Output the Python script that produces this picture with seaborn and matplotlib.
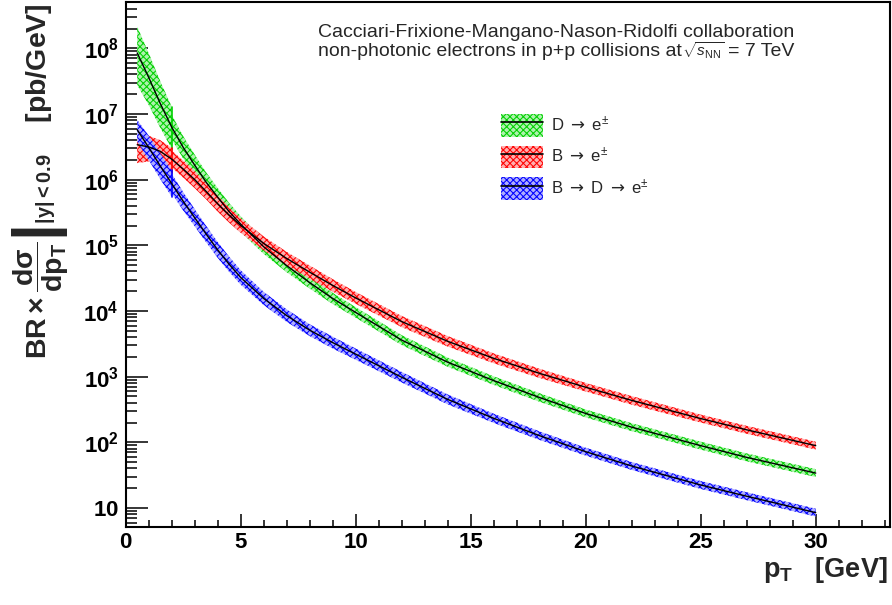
import matplotlib
matplotlib.use("Agg")
import matplotlib.pyplot as plt
from matplotlib.patches import Patch
from matplotlib.lines import Line2D
from matplotlib.ticker import FixedLocator, MultipleLocator, NullFormatter
from matplotlib.mathtext import MathTextParser
import numpy as np
import pandas as pd
import seaborn as sns

# FONLL pT grid in GeV; the 2 GeV node appears twice because the uncertainty
# band switches there from the low-pT to the high-pT evaluation
pt = [0.5, 1.0, 1.5, 2.0, 2.0, 2.5, 3.0, 3.5, 4.0, 4.5, 5.0, 6.0, 7.0, 8.0,
      9.0, 10.0, 12.0, 14.0, 16.0, 18.0, 20.0, 22.0, 25.0, 27.0, 30.0]

# central values, BR x dsigma/dpT in pb/GeV
d_to_e = [8.5e7, 3.6e7, 1.45e7, 6.3e6, 6.3e6, 3.1e6, 1.66e6, 9.1e5, 5.4e5,
          3.25e5, 2.1e5, 9.5e4, 4.9e4, 2.7e4, 1.55e4, 9.5e3, 3.6e3, 1.66e3,
          870, 480, 275, 170, 89, 59, 34]
b_to_e = [3.4e6, 3.15e6, 2.7e6, 2.05e6, 2.05e6, 1.45e6, 1.0e6, 6.6e5, 4.3e5,
          2.88e5, 2.0e5, 1.07e5, 6.3e4, 3.9e4, 2.45e4, 1.58e4, 6.9e3, 3.45e3,
          1.9e3, 1.12e3, 690, 435, 230, 155, 89]
b_to_d_to_e = [5.75e6, 3.09e6, 1.62e6, 8.7e5, 8.7e5, 4.68e5, 2.63e5, 1.48e5,
               8.5e4, 5.13e4, 3.24e4, 1.55e4, 8.5e3, 5.1e3, 3.3e3, 2.2e3, 980,
               450, 232, 126, 72, 43.6, 22.4, 15.1, 8.5]

# upper / lower edges of the theory uncertainty band, in decades
d_to_e_up = [0.40, 0.37, 0.34, 0.31, 0.19, 0.17, 0.16, 0.15, 0.14, 0.13, 0.12,
             0.11, 0.10, 0.09, 0.085, 0.08, 0.075, 0.07, 0.065, 0.065, 0.06,
             0.06, 0.06, 0.06, 0.06]
d_to_e_lo = [0.49, 0.42, 0.37, 0.33, 0.19, 0.17, 0.16, 0.15, 0.14, 0.13, 0.12,
             0.11, 0.10, 0.09, 0.085, 0.08, 0.075, 0.07, 0.065, 0.065, 0.06,
             0.06, 0.06, 0.06, 0.06]
b_to_e_up = [0.15, 0.17, 0.17, 0.17, 0.13, 0.13, 0.13, 0.12, 0.12, 0.115,
             0.11, 0.105, 0.10, 0.10, 0.095, 0.09, 0.085, 0.08, 0.075, 0.07,
             0.065, 0.065, 0.06, 0.06, 0.06]
b_to_e_lo = [0.28, 0.22, 0.21, 0.21, 0.13, 0.13, 0.13, 0.12, 0.12, 0.115,
             0.11, 0.105, 0.10, 0.10, 0.095, 0.09, 0.085, 0.08, 0.075, 0.07,
             0.065, 0.065, 0.06, 0.06, 0.06]
b_to_d_to_e_up = [0.15, 0.18, 0.19, 0.20, 0.15, 0.14, 0.13, 0.125, 0.12,
                  0.115, 0.11, 0.10, 0.095, 0.09, 0.09, 0.085, 0.08, 0.075,
                  0.07, 0.065, 0.06, 0.06, 0.06, 0.06, 0.06]
b_to_d_to_e_lo = [0.18, 0.19, 0.20, 0.20, 0.15, 0.14, 0.13, 0.125, 0.12,
                  0.115, 0.11, 0.10, 0.095, 0.09, 0.09, 0.085, 0.08, 0.075,
                  0.07, 0.065, 0.06, 0.06, 0.06, 0.06, 0.06]

labels = [r"D $\mathsf{\rightarrow}$ e$^{\pm}$",
          r"B $\mathsf{\rightarrow}$ e$^{\pm}$",
          r"B $\mathsf{\rightarrow}$ D $\mathsf{\rightarrow}$ e$^{\pm}$"]
strong_colors = ["#00d000", "#ff0000", "#0000ff"]
light_colors = ["#aef2ae", "#ffaeae", "#aeaeff"]

y_tick_values = [10, 1e2, 1e3, 1e4, 1e5, 1e6, 1e7, 1e8]
y_tick_labels = [r"$\mathbf{10}$", r"$\mathbf{10^{2}}$", r"$\mathbf{10^{3}}$",
                 r"$\mathbf{10^{4}}$", r"$\mathbf{10^{5}}$", r"$\mathbf{10^{6}}$",
                 r"$\mathbf{10^{7}}$", r"$\mathbf{10^{8}}$"]
x_tick_values = [0, 5, 10, 15, 20, 25, 30]

sns.set_theme(style="ticks")
plt.rcParams.update({
    "font.family": ["Liberation Sans", "DejaVu Sans"],
    "mathtext.fontset": "custom",
    "mathtext.rm": "Liberation Sans",
    "mathtext.sf": "DejaVu Sans",
    "mathtext.it": "Liberation Sans:italic",
    "mathtext.bf": "Liberation Sans:bold",
    "hatch.linewidth": 0.75,
    "axes.linewidth": 1.5,
})

W, H = 892, 605
fig = plt.figure(figsize=(W / 100, H / 100), dpi=100)
fig.patch.set_facecolor("white")
left, right, top, bottom = 125.7, 890.5, 2.0, 526.7
ax = fig.add_axes([left / W, 1 - bottom / H, (right - left) / W, (bottom - top) / H])
ax.set_facecolor("white")

series = [
    (labels[0], d_to_e, d_to_e_up, d_to_e_lo),
    (labels[1], b_to_e, b_to_e_up, b_to_e_lo),
    (labels[2], b_to_d_to_e, b_to_d_to_e_up, b_to_d_to_e_lo),
]

frames = []
for i, (name, vals, up, lo) in enumerate(series):
    v = np.log10(np.asarray(vals, dtype=float))
    hi_edge = 10 ** (v + np.asarray(up))
    lo_edge = 10 ** (v - np.asarray(lo))
    ax.fill_between(pt, lo_edge, hi_edge, facecolor=light_colors[i],
                    edgecolor=strong_colors[i], hatch="xxxxx", linewidth=0,
                    zorder=1 + i)
    # edge where the band evaluation changes at 2 GeV
    ax.plot([pt[3], pt[3]], [lo_edge[3], hi_edge[3]], color=strong_colors[i],
            lw=1.2, zorder=1 + i)
    frames.append(pd.DataFrame({"pT": pt, "sigma": vals, "channel": name}))

df = pd.concat(frames, ignore_index=True)
sns.lineplot(data=df, x="pT", y="sigma", units="channel", estimator=None,
             color="black", lw=1.0, sort=False, legend=False, ax=ax, zorder=5)

ax.set_yscale("log")
ax.set_xlim(0, 33.25)
ax.set_ylim(5.19, 5.07e8)
ax.set_xlabel("")
ax.set_ylabel("")

ax.yaxis.set_major_locator(FixedLocator(y_tick_values))
ax.set_yticklabels(y_tick_labels)
minor_y = [m * 10 ** k for k in range(0, 9) for m in range(2, 10)]
ax.yaxis.set_minor_locator(FixedLocator(minor_y))
ax.yaxis.set_minor_formatter(NullFormatter())
ax.xaxis.set_major_locator(FixedLocator(x_tick_values))
ax.set_xticklabels([str(t) for t in x_tick_values])
ax.xaxis.set_minor_locator(MultipleLocator(1))

ax.tick_params(axis="both", which="both", direction="in", top=False,
               right=False, colors="black", width=1.1)
ax.tick_params(axis="y", which="major", length=16, pad=5, labelsize=16)
ax.tick_params(axis="y", which="minor", length=8)
ax.tick_params(axis="x", which="major", length=9.5, pad=4, labelsize=16)
ax.tick_params(axis="x", which="minor", length=5)
for lab in ax.get_xticklabels() + ax.get_yticklabels():
    lab.set_fontweight("bold")
for s in ax.spines.values():
    s.set_visible(True)
    s.set_linewidth(1.5)
    s.set_color("black")

# legend: pattern box with the central line through it
handles = [(Patch(facecolor=light_colors[i], edgecolor=strong_colors[i],
                  hatch="xxxxx", linewidth=0),
            Line2D([], [], color="black", lw=1.2)) for i in range(3)]
ax.legend(handles, labels, loc="upper left",
          bbox_to_anchor=(501 / W, 1 - 114 / H), bbox_transform=fig.transFigure,
          frameon=False, fontsize=12, handlelength=2.52, handleheight=1.72,
          labelspacing=0.54, handletextpad=0.5, borderpad=0, borderaxespad=0)

# header
fig.text(556 / W, 1 - 36.7 / H,
         "Cacciari-Frixione-Mangano-Nason-Ridolfi collaboration",
         ha="center", va="baseline", fontsize=14)
t_a = fig.text(318 / W, 1 - 55.5 / H,
               "non-photonic electrons in p+p collisions at",
               ha="left", va="baseline", fontsize=14)
t_b = ax.annotate(r"$\sqrt{s_{\mathrm{NN}}}$", xy=(1, 1 - 56.5 / H),
                  xycoords=(t_a, "figure fraction"), ha="left", va="baseline",
                  fontsize=11, annotation_clip=False)
ax.annotate("= 7 TeV", xy=(1, 1 - 55.5 / H), xycoords=(t_b, "figure fraction"),
            xytext=(3, 0), textcoords="offset points", ha="left",
            va="baseline", fontsize=14, annotation_clip=False)

fig.text(888 / W, 1 - 577 / H, r"$\mathbf{p_{T}}$   [GeV]", ha="right",
         va="baseline", fontsize=19.5, fontweight="bold")

ylab = r"$\mathbf{BR \times \left.\dfrac{d\sigma}{dp_{T}}\right|_{|y|<0.9}}$    [pb/GeV]"
try:
    MathTextParser("agg").parse(ylab, dpi=100)
except Exception:
    ylab = r"$\mathbf{BR \times \dfrac{d\sigma}{dp_{T}}|_{|y|<0.9}}$    [pb/GeV]"
fig.text(40 / W, 1 - 3 / H, ylab, rotation=90, ha="center", va="top",
         fontsize=20.5, fontweight="bold")

fig.savefig("out.png", dpi=100, facecolor="white")
